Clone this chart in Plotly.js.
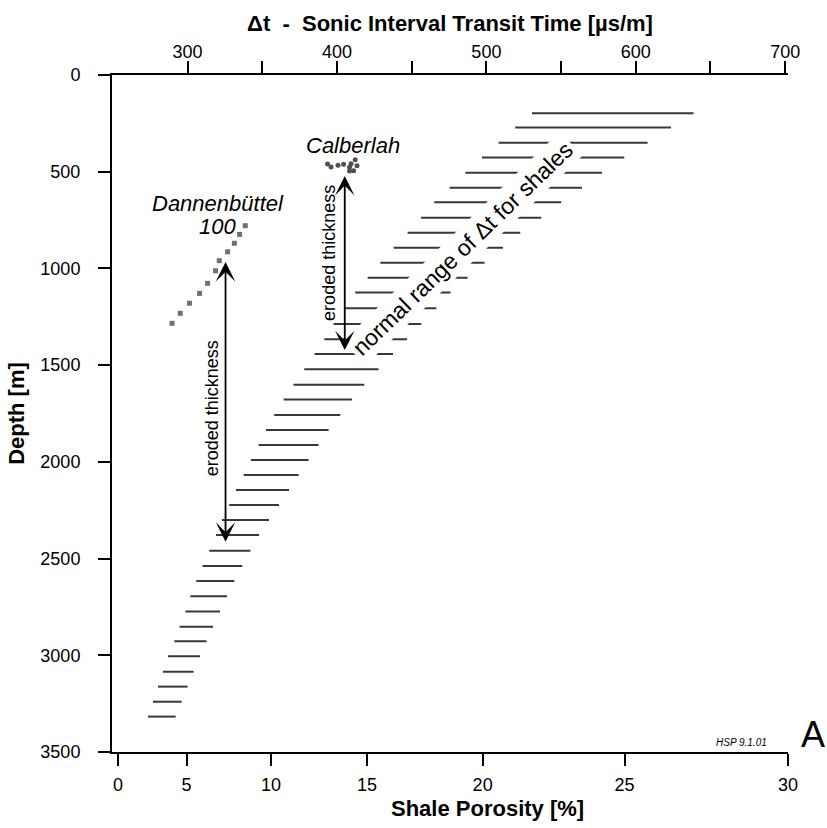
<!DOCTYPE html>
<html>
<head>
<meta charset="utf-8">
<script src="https://cdn.plot.ly/plotly-3.0.1.min.js"></script>
<style>html,body{margin:0;padding:0;background:#fff;}#chart{width:827px;height:828px;}</style>
</head>
<body>
<div id="chart"></div>
<script>
// ---- Data (Δt in µs/m, depth in m) ----
const dtTicks = [300, 350, 400, 450, 500, 550, 600, 650, 700];
const dtTickText = ['300', '', '400', '', '500', '', '600', '', '700'];
const porosityTickText = ['0', '5', '10', '15', '20', '25', '30'];
const porosityTickDt = [253.4, 299.3, 355.8, 420.1, 497.5, 592.5, 701.9];
const depthTicks = [0, 500, 1000, 1500, 2000, 2500, 3000, 3500];

// normal range of Δt for shales (one bar per depth)
const barDepth = [198, 272, 350, 427, 505, 583, 658, 738, 815, 893, 970, 1048, 1125,
  1206, 1287, 1366, 1442, 1521, 1601, 1677, 1758, 1835, 1913, 1990, 2068, 2145, 2223,
  2300, 2378, 2459, 2538, 2616, 2695, 2773, 2852, 2928, 3005, 3085, 3162, 3240, 3317];
const barDtMin = [530.5, 519.3, 508.2, 497.1, 485.9, 475.4, 465.1, 456.2, 447.3, 437.9, 429.0, 420.5, 412.2,
  404.9, 397.7, 391.5, 385.0, 378.1, 370.9, 364.3, 358.0, 352.5, 347.5, 342.4, 337.5, 332.4, 327.9,
  323.0, 319.0, 314.5, 310.0, 305.8, 301.8, 298.5, 294.6, 291.1, 286.9, 283.5, 280.2, 276.8, 273.5];
const barDtMax = [638.7, 623.6, 607.9, 592.3, 577.4, 564.0, 550.1, 536.7, 522.7, 511.1, 498.8, 487.4, 476.0,
  466.5, 456.4, 446.9, 437.5, 427.8, 418.3, 410.0, 402.2, 394.4, 387.7, 381.0, 374.3, 367.9, 361.2,
  354.5, 347.8, 342.0, 336.6, 331.3, 326.4, 321.7, 317.0, 312.7, 308.3, 304.0, 300.0, 296.0, 292.0];

// well Dannenbüttel 100
const dannDt = [338.6, 334.8, 331.3, 326.8, 321.2, 318.7, 313.4, 308.0, 301.3, 295.1, 289.6];
const dannDepth = [779, 824, 870, 914, 960, 1012, 1077, 1129, 1180, 1232, 1284];

// well Calberlah
const calbDt = [393.7, 396.0, 400.7, 404.4, 408.4, 409.4, 412.2, 413.4, 411.1, 408.4];
const calbDepth = [460, 476, 467, 462, 477, 459, 438, 469, 495, 496];

// eroded thickness arrows: [Δt, top depth, bottom depth]
const erodedDann = [325.4, 967, 2421];
const erodedCalb = [405.2, 522, 1430];

// ---- build traces ----
const bx = [], by = [];
for (let i = 0; i < barDepth.length; i++) {
  bx.push(barDtMin[i], barDtMax[i], null);
  by.push(barDepth[i], barDepth[i], null);
}
const FONT = 'Liberation Sans, Arial, Helvetica, sans-serif';

const traces = [
  {x: bx, y: by, mode: 'lines', line: {color: '#383838', width: 2}, hoverinfo: 'skip', showlegend: false, connectgaps: false},
  {x: dannDt, y: dannDepth, mode: 'markers', marker: {symbol: 'square', size: 5, color: '#707070'}, showlegend: false},
  {x: calbDt, y: calbDepth, mode: 'markers', marker: {symbol: 'circle', size: 5, color: '#505050'}, showlegend: false},
  {x: [], y: [], xaxis: 'x2', yaxis: 'y', mode: 'markers', showlegend: false, hoverinfo: 'skip'}
];

const axisCommon = {
  showline: true, linecolor: '#000', linewidth: 2,
  ticks: 'outside', ticklen: 12, tickwidth: 2, tickcolor: '#000',
  showgrid: false, zeroline: false,
  tickfont: {family: FONT, size: 18, color: '#000'}
};

const layout = {
  width: 827, height: 828,
  margin: {l: 112, r: 39, t: 75, b: 76},
  paper_bgcolor: '#fff', plot_bgcolor: '#fff',
  font: {family: FONT, color: '#000'},
  showlegend: false,
  xaxis: Object.assign({}, axisCommon, {
    side: 'top', range: [249.4, 701.9], tickmode: 'array',
    tickvals: dtTicks, ticktext: dtTickText, ticklabelstandoff: -4,
    title: {text: 'Δt\u00a0\u00a0-\u00a0\u00a0Sonic Interval Transit Time [µs/m]', font: {family: FONT, size: 22, weight: 'bold'}, standoff: 4}
  }),
  xaxis2: Object.assign({}, axisCommon, {
    overlaying: 'x', side: 'bottom', anchor: 'y', range: [249.4, 701.9], tickmode: 'array',
    tickvals: porosityTickDt, ticktext: porosityTickText, ticklabelstandoff: 3
  }),
  yaxis: Object.assign({}, axisCommon, {
    range: [3500, 0], tickmode: 'array', tickvals: depthTicks, ticklabelstandoff: 14,
    title: {text: 'Depth [m]', font: {family: FONT, size: 22, weight: 'bold'}, standoff: 10}
  }),
  annotations: [
    {x: 483.7, y: 898, xref: 'x', yref: 'y', text: 'normal range of Δt for shales', showarrow: false,
     textangle: -44, font: {family: FONT, size: 23, color: '#000'}, bgcolor: '#fff', borderpad: 3},
    {x: erodedDann[0], y: erodedDann[1], ax: erodedDann[0], ay: erodedDann[2], xref: 'x', yref: 'y', axref: 'x', ayref: 'y',
     text: '', showarrow: true, arrowhead: 3, startarrowhead: 3, arrowside: 'end+start', arrowsize: 1.8, arrowwidth: 1.8, arrowcolor: '#000', standoff: 0, startstandoff: 0},
    {x: erodedCalb[0], y: erodedCalb[1], ax: erodedCalb[0], ay: erodedCalb[2], xref: 'x', yref: 'y', axref: 'x', ayref: 'y',
     text: '', showarrow: true, arrowhead: 3, startarrowhead: 3, arrowside: 'end+start', arrowsize: 1.8, arrowwidth: 1.8, arrowcolor: '#000', standoff: 0, startstandoff: 0},
    {x: 316.5, y: 1722, xref: 'x', yref: 'y', text: 'eroded thickness', showarrow: false, textangle: -90,
     font: {family: FONT, size: 18, color: '#000'}},
    {x: 394.2, y: 918, xref: 'x', yref: 'y', text: 'eroded thickness', showarrow: false, textangle: -90,
     font: {family: FONT, size: 18, color: '#000'}},
    {x: 320.5, y: 665, xref: 'x', yref: 'y', text: '<i>Dannenbüttel</i>', showarrow: false,
     font: {family: FONT, size: 22, color: '#000'}},
    {x: 319.7, y: 782, xref: 'x', yref: 'y', text: '<i>100</i>', showarrow: false,
     font: {family: FONT, size: 22, color: '#000'}},
    {x: 410.5, y: 362, xref: 'x', yref: 'y', text: '<i>Calberlah</i>', showarrow: false,
     font: {family: FONT, size: 22, color: '#000'}},
    {x: 670.6, y: 3453, xref: 'x', yref: 'y', text: '<i>HSP 9.1.01</i>', showarrow: false,
     font: {family: FONT, size: 10, color: '#000'}},
    {x: 1.016, y: 0.026, xref: 'paper', yref: 'paper', xanchor: 'left', yanchor: 'middle', text: 'A', showarrow: false,
     font: {family: FONT, size: 36, color: '#000'}},
    {x: 0.556, y: -0.084, xref: 'paper', yref: 'paper', xanchor: 'center', yanchor: 'middle', text: 'Shale Porosity [%]', showarrow: false,
     font: {family: FONT, size: 22, color: '#000', weight: 'bold'}, borderpad: 0}
  ]
};

Plotly.newPlot('chart', traces, layout, {displayModeBar: false, staticPlot: true});
</script>
</body>
</html>
